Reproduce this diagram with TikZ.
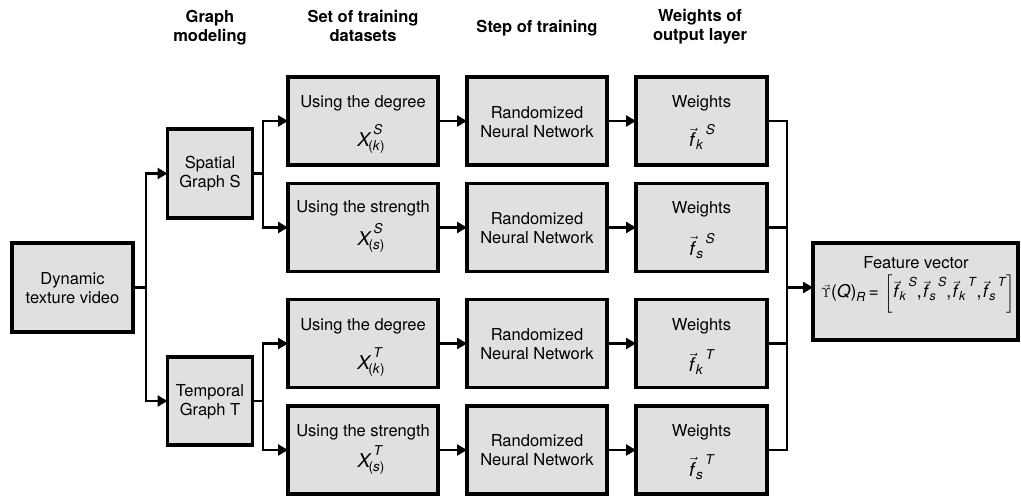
\documentclass[tikz,border=0pt]{standalone}
\usepackage{amsmath}
\usepackage{graphicx}
\usepackage{fontspec}
\setmainfont{TeX Gyre Heros}
\usetikzlibrary{arrows.meta}
\definecolor{boxgray}{RGB}{224,224,224}
\newcommand\mainsz{\fontsize{19}{19}\selectfont}
\newcommand\scrsz{\fontsize{13.5}{13.5}\selectfont}
% X with superscript and parenthesised subscript
\newcommand\Xs[2]{\mbox{\mainsz\textit{X}\kern2pt\makebox[0pt][l]{\raisebox{12pt}{\scrsz\textit{#1}}}\kern-5pt\raisebox{-4pt}{\scrsz(\textit{#2})}}}
% vector f with subscript and superscript
\newcommand\Fv[2]{\mbox{\mainsz$\vec{\mbox{\mainsz\textit{f}}}$\raisebox{-3pt}{\scrsz\textit{#1}}\kern2.5pt\raisebox{12pt}{\scrsz\textit{#2}}}}
\newcommand\cma{\mbox{\mainsz,\hspace{1.5pt}}}
\begin{document}
\begin{tikzpicture}[x=1pt,y=-1pt,
  every node/.style={font=\fontsize{16.5}{19}\selectfont, inner sep=0pt, outer sep=0pt},
  box/.style={draw, line width=3.2pt, fill=boxgray},
  hdr/.style={font=\fontsize{16.5}{19}\selectfont\bfseries, align=center},
  lbl/.style={align=center},
  conn/.style={line width=2.8pt},
  arr/.style={conn, -{Triangle[length=10pt,width=11pt]}}
]
\useasboundingbox (0,0) rectangle (1021,500);

% headers
\node[hdr] (h1) at (210,28) {Graph\\modeling};
\node[hdr] (h2) at (363,26) {Set of training\\datasets};
\node[hdr] (h3) at (537,28) {Step of training};
\node[hdr] (h4) at (700,27) {Weights of\\output layer};

% boxes
\node[box, minimum width=121pt, minimum height=89pt] (video) at (72.5,287.5) {};
\node[box, minimum width=85pt, minimum height=89pt] (spatial) at (210,173.5) {};
\node[box, minimum width=85pt, minimum height=88pt] (temporal) at (210,401) {};

\foreach \n/\cy in {1/121,2/227.5,3/343.5,4/450}{
  \node[box, minimum width=150pt, minimum height=88pt] (d\n) at (363,\cy) {};
  \node[box, minimum width=140pt, minimum height=88pt] (r\n) at (537,\cy) {};
  \node[box, minimum width=131pt, minimum height=88pt] (w\n) at (701.5,\cy) {};
}
\node[box, minimum width=205pt, minimum height=97pt] (feat) at (915.5,291.5) {};

% connectors
\coordinate (j1) at (146,287.5);
\coordinate (j2) at (263,173.5);
\coordinate (j3) at (263,401);
\coordinate (j4) at (787,287.5);
\draw[conn] (video.east) -- (j1);
\draw[arr] (j1) |- (spatial.west);
\draw[arr] (j1) |- (temporal.west);
\draw[conn] (spatial.east) -- (j2);
\draw[arr] (j2) |- (d1.west);
\draw[arr] (j2) |- (d2.west);
\draw[conn] (temporal.east) -- (j3);
\draw[arr] (j3) |- (d3.west);
\draw[arr] (j3) |- (d4.west);
\foreach \n in {1,2,3,4}{
  \draw[arr] (d\n.east) -- (r\n.west);
  \draw[arr] (r\n.east) -- (w\n.west);
}
\draw[conn] (w1.east) -| (j4);
\draw[conn] (w2.east) -| (j4);
\draw[conn] (w3.east) -| (j4);
\draw[conn] (w4.east) -| (j4);
\draw[arr] (j4) -- (j4 -| feat.west);

% texts
\node[lbl] (tvideo) at (72.5,288.5) {Dynamic\\texture video};
\node[lbl] (tspatial) at (210,174) {Spatial\\Graph S};
\node[lbl] (ttemporal) at (210,402) {Temporal\\Graph T};
\foreach \n/\cy in {1/122.5,2/228,3/344.5,4/450.5}{
  \node[lbl] (tr\n) at (537,\cy) {Randomized\\Neural Network};
}
\node (td1) at (363,103) {Using the degree};
\node (td2) at (363,208) {Using the strength};
\node (td3) at (363,326) {Using the degree};
\node (td4) at (363,432) {Using the strength};
\node (xd1) at (371,138.5) {\Xs{S}{k}};
\node (xd2) at (371,237.5) {\Xs{S}{s}};
\node (xd3) at (371,362.5) {\Xs{T}{k}};
\node (xd4) at (371,460.5) {\Xs{T}{s}};
\node (tw1) at (701.5,103) {Weights};
\node (tw2) at (701.5,209) {Weights};
\node (tw3) at (701.5,326) {Weights};
\node (tw4) at (701.5,432) {Weights};
\node (fw1) at (702,137) {\Fv{k}{S}};
\node (fw2) at (702,246) {\Fv{s}{S}};
\node (fw3) at (702,362.5) {\Fv{k}{T}};
\node (fw4) at (702,467) {\Fv{s}{T}};
\node (tfeat) at (916,263) {Feature vector};
\node (ffeat) at (918,294) {\resizebox{194pt}{!}{$\mbox{\fontsize{15}{15}\selectfont$\vec{\Upsilon}$}\mbox{\mainsz(\textit{Q})\raisebox{-4pt}{\scrsz\textit{R}}\hspace{3.5pt}=\hspace{3.5pt}}\left[\Fv{k}{S}\cma\Fv{s}{S}\cma\Fv{k}{T}\cma\Fv{s}{T}\right]$}};
\end{tikzpicture}
\end{document}
